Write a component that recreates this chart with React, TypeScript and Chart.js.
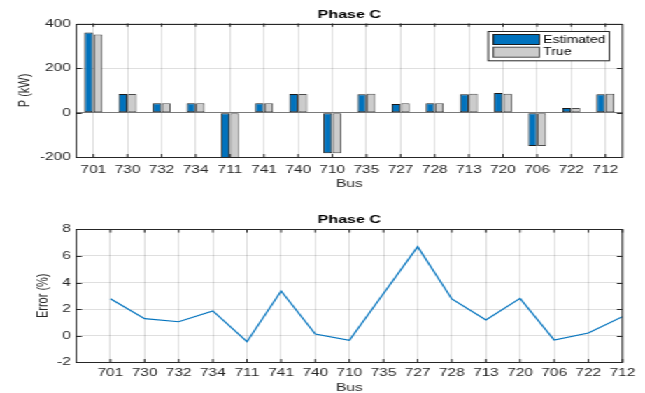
import React, { useEffect, useRef } from 'react';
import { Chart, registerables } from 'chart.js';

Chart.register(...registerables);

// ---- data ----
const buses = ['701', '730', '732', '734', '711', '741', '740', '710', '735', '727', '728', '713', '720', '706', '722', '712'];
const estimatedP = [360, 84, 42, 42, -204, 42, 84, -182, 83, 39, 42, 83, 88, -149, 21, 83];
const trueP = [351, 84, 42, 42, -204, 42, 84, -182, 85, 42, 42, 85, 85, -149, 21, 85];
const errorPct = [2.78, 1.28, 1.05, 1.86, -0.45, 3.36, 0.13, -0.35, 3.17, 6.69, 2.76, 1.18, 2.81, -0.32, 0.2, 1.43];
const powerTicks = [-200, 0, 200, 400];
const errorTicks = [-2, 0, 2, 4, 6, 8];

// ---- style ----
const CANVAS_W = 461;
const STRETCH = 645 / CANVAS_W;
const FONT = "'Liberation Sans', Arial, Helvetica, sans-serif";
const AXIS_COLOR = '#262626';
const GRID_COLOR = 'rgba(38,38,38,0.15)';
const BLUE = '#0072BD';

const tickFont = { family: FONT, size: 11, lineHeight: 1.2 };
const titleFont = { family: FONT, size: 11.5, weight: 'bold' as const, lineHeight: 1.2 };

const boxPlugin = {
  id: 'matlabBox',
  afterDatasetsDraw(chart: any) {
    const { ctx, chartArea: a, scales } = chart;
    const x = scales.x;
    const y = scales.y;
    ctx.save();
    ctx.strokeStyle = AXIS_COLOR;
    ctx.lineWidth = 1;
    ctx.beginPath();
    x.ticks.forEach((_t: any, i: number) => {
      const px = x.getPixelForTick(i);
      ctx.moveTo(px, a.top);
      ctx.lineTo(px, a.top + 3.3);
      ctx.moveTo(px, a.bottom);
      ctx.lineTo(px, a.bottom - 3.3);
    });
    y.ticks.forEach((_t: any, i: number) => {
      const py = Math.round(y.getPixelForTick(i)) + 0.5;
      ctx.moveTo(a.left, py);
      ctx.lineTo(a.left + 4, py);
      ctx.moveTo(a.right, py);
      ctx.lineTo(a.right - 4, py);
    });
    ctx.stroke();
    ctx.strokeRect(a.left, Math.round(a.top) + 0.5, a.right - a.left, Math.round(a.bottom) - Math.round(a.top));
    ctx.restore();
  },
};

const legendPlugin = {
  id: 'boxLegend',
  afterDraw(chart: any) {
    const { ctx, chartArea: a } = chart;
    const ds = chart.data.datasets;
    const boxW = 86.5;
    const boxH = 29.3;
    const right = a.right - 9.4;
    const top = Math.round(a.top + 7.5) + 0.5;
    const left = right - boxW;
    ctx.save();
    ctx.fillStyle = '#ffffff';
    ctx.fillRect(left, top, boxW, boxH);
    ctx.strokeStyle = AXIS_COLOR;
    ctx.lineWidth = 1;
    ctx.strokeRect(left, top, boxW, boxH);
    ds.forEach((d: any, i: number) => {
      const sy = top + 3 + i * 12.7;
      ctx.fillStyle = d.backgroundColor;
      ctx.fillRect(left + 3.6, sy, 32.9, 10);
      ctx.strokeStyle = d.borderColor;
      ctx.strokeRect(left + 3.6, sy, 32.9, 10);
      ctx.fillStyle = '#000000';
      ctx.font = `10px ${FONT}`;
      ctx.textBaseline = 'middle';
      ctx.textAlign = 'left';
      ctx.fillText(d.label, left + 39.3, sy + 5.5);
    });
    ctx.restore();
  },
};

export default function App() {
  const topRef = useRef<HTMLCanvasElement>(null);
  const botRef = useRef<HTMLCanvasElement>(null);

  useEffect(() => {
    const top = new Chart(topRef.current as HTMLCanvasElement, {
      type: 'bar',
      data: {
        labels: buses,
        datasets: [
          {
            label: 'Estimated',
            data: estimatedP,
            backgroundColor: BLUE,
            borderColor: '#1a1a1a',
            borderWidth: 1,
            borderSkipped: false,
            categoryPercentage: 0.54,
            barPercentage: 0.95,
          },
          {
            label: 'True',
            data: trueP,
            backgroundColor: '#CCCCCC',
            borderColor: '#4d4d4d',
            borderWidth: 1,
            borderSkipped: false,
            categoryPercentage: 0.54,
            barPercentage: 0.95,
          },
        ],
      },
      options: {
        responsive: false,
        animation: false,
        devicePixelRatio: 1,
        layout: { padding: { left: 0, right: 16.1, top: 0, bottom: 0 } },
        plugins: {
          legend: { display: false },
          tooltip: { enabled: false },
          title: {
            display: true,
            text: 'Phase C',
            fullSize: false,
            color: '#000000',
            font: titleFont,
            padding: { top: 7.6, bottom: 2.1 },
          },
        },
        scales: {
          x: {
            grid: { offset: false, color: GRID_COLOR, drawTicks: false },
            border: { display: false },
            ticks: { color: AXIS_COLOR, font: tickFont, padding: 5.6, autoSkip: false, maxRotation: 0 },
            title: { display: true, text: 'Bus', color: AXIS_COLOR, font: tickFont, padding: { top: 0, bottom: 5.7 } },
            afterFit: (s: any) => { s.height = 38.7; },
          },
          y: {
            min: -200,
            max: 400,
            afterBuildTicks: (s: any) => { s.ticks = powerTicks.map((v) => ({ value: v })); },
            grid: {
              color: (c: any) => (c.tick && c.tick.value === 0 ? '#7a7a7a' : GRID_COLOR),
              drawTicks: false,
            },
            border: { display: false },
            ticks: { color: AXIS_COLOR, font: tickFont, padding: 4 },
            title: { display: true, text: 'P (kW)', color: AXIS_COLOR, font: tickFont, padding: { top: 11.3, bottom: 0 } },
            afterFit: (s: any) => { s.width = 54.53; },
          },
        },
      },
      plugins: [boxPlugin, legendPlugin],
    } as any);

    const bot = new Chart(botRef.current as HTMLCanvasElement, {
      type: 'line',
      data: {
        datasets: [
          {
            label: 'Error',
            data: errorPct.map((v, i) => ({ x: i + 1, y: v })),
            borderColor: BLUE,
            borderWidth: 1.2,
            pointRadius: 0,
            tension: 0,
            fill: false,
          },
        ],
      },
      options: {
        responsive: false,
        animation: false,
        devicePixelRatio: 1,
        layout: { padding: { left: 0, right: 16.1, top: 0, bottom: 0 } },
        plugins: {
          legend: { display: false },
          tooltip: { enabled: false },
          title: {
            display: true,
            text: 'Phase C',
            fullSize: false,
            color: '#000000',
            font: titleFont,
            padding: { top: 16.6, bottom: 2.9 },
          },
        },
        scales: {
          x: {
            type: 'linear',
            min: 0,
            max: buses.length,
            afterBuildTicks: (s: any) => { s.ticks = buses.map((_b, i) => ({ value: i + 1 })); },
            grid: { color: GRID_COLOR, drawTicks: false },
            border: { display: false },
            ticks: {
              color: AXIS_COLOR,
              font: tickFont,
              padding: 4.4,
              autoSkip: false,
              maxRotation: 0,
              callback: (v: any) => buses[Math.round(v) - 1] ?? '',
            },
            title: { display: true, text: 'Bus', color: AXIS_COLOR, font: tickFont, padding: { top: 0, bottom: 1.4 } },
            afterFit: (s: any) => { s.height = 33.7; },
          },
          y: {
            min: -2,
            max: 8,
            afterBuildTicks: (s: any) => { s.ticks = errorTicks.map((v) => ({ value: v })); },
            grid: { color: GRID_COLOR, drawTicks: false },
            border: { display: false },
            ticks: { color: AXIS_COLOR, font: tickFont, padding: 4 },
            title: { display: true, text: 'Error (%)', color: AXIS_COLOR, font: tickFont, padding: { top: 24.4, bottom: 0 } },
            afterFit: (s: any) => { s.width = 54.53; },
          },
        },
      },
      plugins: [boxPlugin],
    } as any);

    return () => {
      top.destroy();
      bot.destroy();
    };
  }, []);

  return (
    <div style={{ position: 'absolute', left: 0, top: 0, width: 645, height: 393, overflow: 'hidden', background: '#ffffff' }}>
      <div style={{ position: 'absolute', left: 0, top: 0, width: CANVAS_W, transform: `scaleX(${STRETCH})`, transformOrigin: '0 0' }}>
        <canvas ref={topRef} width={CANVAS_W} height={196} style={{ display: 'block' }} />
        <canvas ref={botRef} width={CANVAS_W} height={200} style={{ display: 'block' }} />
      </div>
    </div>
  );
}
